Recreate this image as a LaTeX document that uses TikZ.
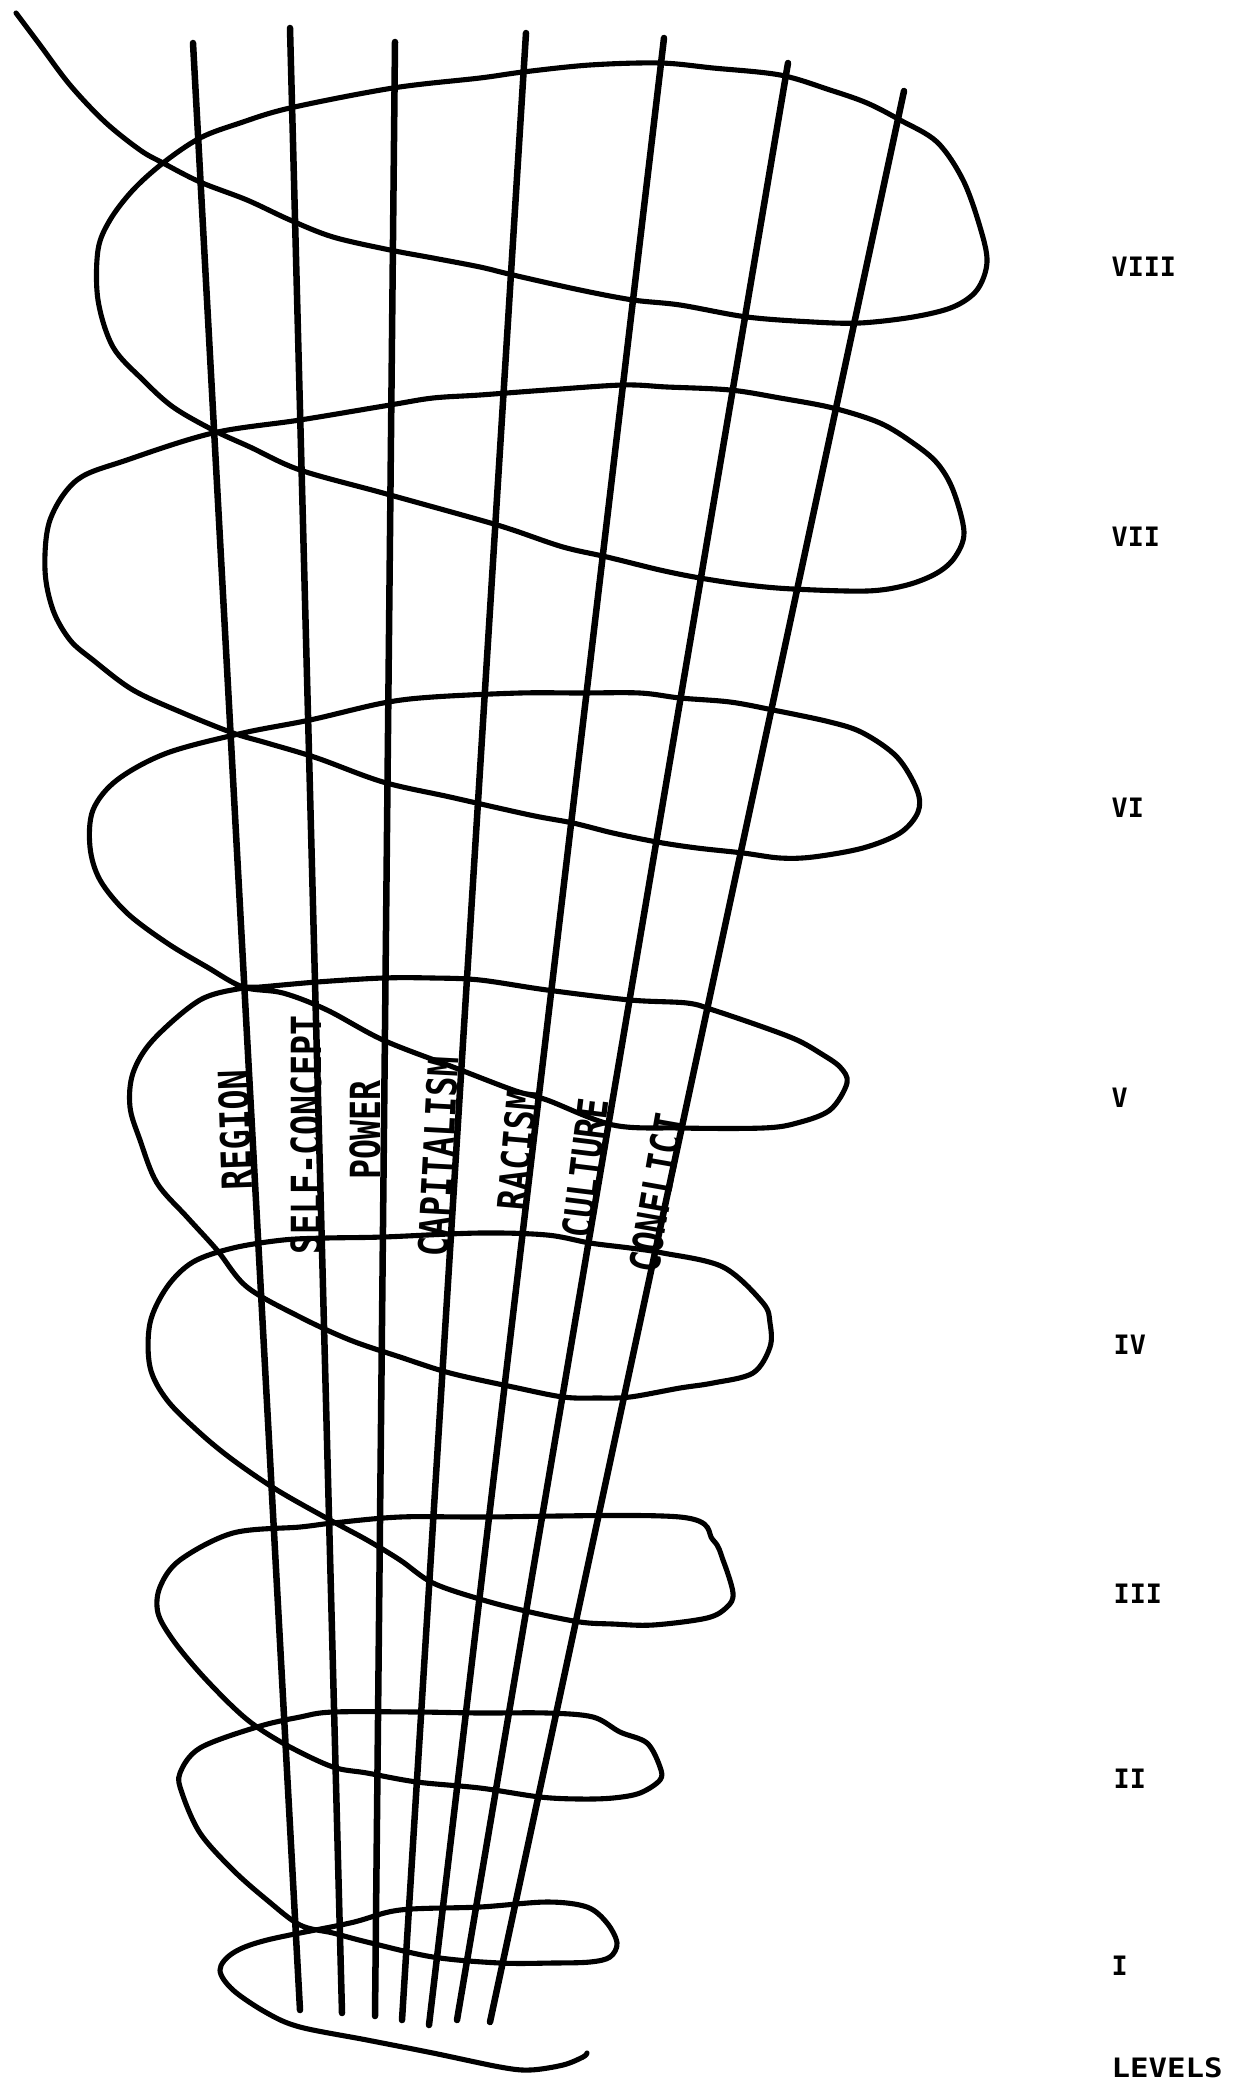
\documentclass[tikz,border=0pt]{standalone}
\usepackage{fontspec}
\newfontfamily\labfont{DejaVu Sans Mono}[FakeStretch=0.8]
\newfontfamily\levfont{DejaVu Sans Mono}
\newfontfamily\levwidefont{DejaVu Sans Mono}[FakeStretch=1.15]
\begin{document}
\begin{tikzpicture}[x=0.01cm,y=-0.01cm,
  helix/.style={line width=1.45pt,line join=round,line cap=round},
  axis/.style={line width=1.85pt,line cap=round},
  lab/.style={font=\labfont\bfseries\fontsize{11.8}{12}\selectfont,inner sep=0pt},
  lev/.style={font=\levfont\bfseries\fontsize{7.6}{8}\selectfont,anchor=west,inner sep=0pt}]
\fill[white] (0,0) rectangle (1245,2094);
\useasboundingbox (0,0) rectangle (1245,2094);
% axes
\coordinate (t1) at (193,43);  \coordinate (b1) at (300,2010);
\coordinate (t2) at (290,28);  \coordinate (b2) at (342,2013);
\coordinate (t3) at (395,42);  \coordinate (b3) at (375,2016);
\coordinate (t4) at (526,33);  \coordinate (b4) at (402,2020);
\coordinate (t5) at (664,38);  \coordinate (b5) at (429,2025);
\coordinate (t6) at (788,63);  \coordinate (b6) at (457,2020);
\coordinate (t7) at (904,91);  \coordinate (b7) at (490,2022);
\foreach \i in {1,...,7} \draw[axis] (t\i) -- (b\i);
% helix
\draw[helix] plot[smooth,tension=0.55] coordinates {
(16,13) (40,45) (70,85) (105,122) (140,150) (163,163) (200,182) (247,200) (290,220)
(333,237) (390,250) (433,258) (480,267) (513,275) (580,290) (633,300) (680,305)
(747,317) (813,322) (860,323) (913,317) (953,307) (977,290) (987,262) (980,227)
(963,180) (937,142) (900,120) (867,103) (830,90) (780,75) (713,68) (660,63)
(590,65) (523,72) (480,78) (393,88) (290,108) (240,123) (200,138) (163,163)
(133,190) (110,220) (98,250) (98,300) (113,347) (143,380) (173,407) (213,430)
(250,447) (300,470) (383,493) (480,520) (513,530) (563,547) (607,557) (660,570)
(700,578) (747,585) (793,589) (867,591) (907,585) (937,573) (955,557) (964,532)
(953,490) (937,463) (913,443) (880,423) (833,408) (780,398) (730,390)
(667,387) (623,385) (547,390) (480,395) (433,398) (390,405) (300,420) (213,433)
(127,460) (77,480) (50,520) (45,570) (53,610) (70,640) (93,660) (133,690)
(183,713) (233,733) (267,743) (317,758) (383,782) (450,797) (530,815) (573,823)
(613,833) (657,842) (697,848) (743,853) (780,858) (813,857) (863,848) (900,833)
(918,812) (917,790) (897,757) (863,733) (830,722) (773,710) (730,702)
(680,698) (640,693) (580,693) (520,693) (433,697) (383,703) (310,720) (243,733)
(167,753) (117,780) (93,810) (90,847) (100,880) (127,913) (167,943) (207,967)
(243,987) (283,993) (327,1010) (383,1040) (453,1067) (513,1090) (547,1100)
(613,1125) (680,1128) (763,1128) (797,1123) (830,1110) (847,1083) (840,1067)
(820,1053) (797,1040) (763,1027) (713,1010) (687,1003) (630,1000) (547,990)
(480,980) (433,978) (383,978) (317,982) (260,987) (243,988) (200,1000) (153,1040)
(133,1073) (130,1107) (140,1140) (157,1183) (187,1217) (217,1250) (247,1287)
(300,1317) (350,1340) (400,1357) (450,1373) (513,1387) (563,1397) (597,1398)
(630,1397) (680,1388) (713,1383) (753,1373) (770,1347) (770,1323) (763,1303)
(723,1267) (663,1253) (630,1248) (590,1243) (547,1235) (480,1233) (383,1237)
(327,1238) (283,1240) (233,1248) (193,1262) (167,1287) (150,1323) (150,1367)
(167,1400) (200,1433) (233,1460) (277,1490) (330,1520) (367,1540) (400,1560)
(433,1583) (483,1600) (530,1612) (580,1622) (613,1624) (653,1625) (707,1618)
(727,1607) (733,1593) (723,1560) (713,1540) (680,1517) (480,1517) (400,1517)
(333,1523) (300,1527) (233,1533) (180,1560) (160,1587) (158,1613) (173,1640)
(200,1673) (233,1707) (257,1727) (290,1747) (333,1767) (367,1773) (417,1782)
(480,1788) (540,1797) (580,1799) (613,1798) (640,1793) (660,1780) (660,1767)
(647,1743) (620,1732) (593,1717) (547,1713) (480,1713) (417,1712) (333,1712)
(300,1717) (257,1727) (200,1748) (180,1773) (182,1793) (200,1833) (233,1870)
(267,1900) (300,1925) (333,1933) (367,1942) (433,1957) (500,1963) (553,1963)
(590,1962) (610,1957) (617,1943) (607,1923) (587,1907) (547,1902) (480,1907)
(400,1910) (350,1923) (267,1940) (233,1953) (220,1970) (233,1990) (267,2013)
(300,2027) (367,2040) (433,2053) (500,2067) (530,2070) (563,2065) (583,2057)
(587,2053)};
% axis labels
\node[lab,rotate=92] (region) at (235,1130) {REGION};
\node[lab,rotate=90] (self) at (306,1135) {SELF-CONCEPT};
\node[lab,rotate=90] (power) at (365,1130) {POWER};
\node[lab,rotate=87] (capitalism) at (438,1157) {CAPITALISM};
\node[lab,rotate=85] (racism) at (517,1150) {RACISM};
\node[lab,rotate=83] (culture) at (585,1168) {CULTURE};
\node[lab,rotate=80] (conflict) at (657,1193) {CONFLICT};
% levels
\node[lev] (l8) at (1111,267) {VIII};
\node[lev] (l7) at (1111,537) {VII};
\node[lev] (l6) at (1111,808) {VI};
\node[lev] (l5) at (1111,1098) {V};
\node[lev] (l4) at (1113,1345) {IV};
\node[lev] (l3) at (1113,1594) {III};
\node[lev] (l2) at (1113,1779) {II};
\node[lev] (l1) at (1111,1966) {I};
\node[lev,font=\levwidefont\bfseries\fontsize{7.6}{8}\selectfont] (levels) at (1111,2068) {LEVELS};
\end{tikzpicture}
\end{document}
